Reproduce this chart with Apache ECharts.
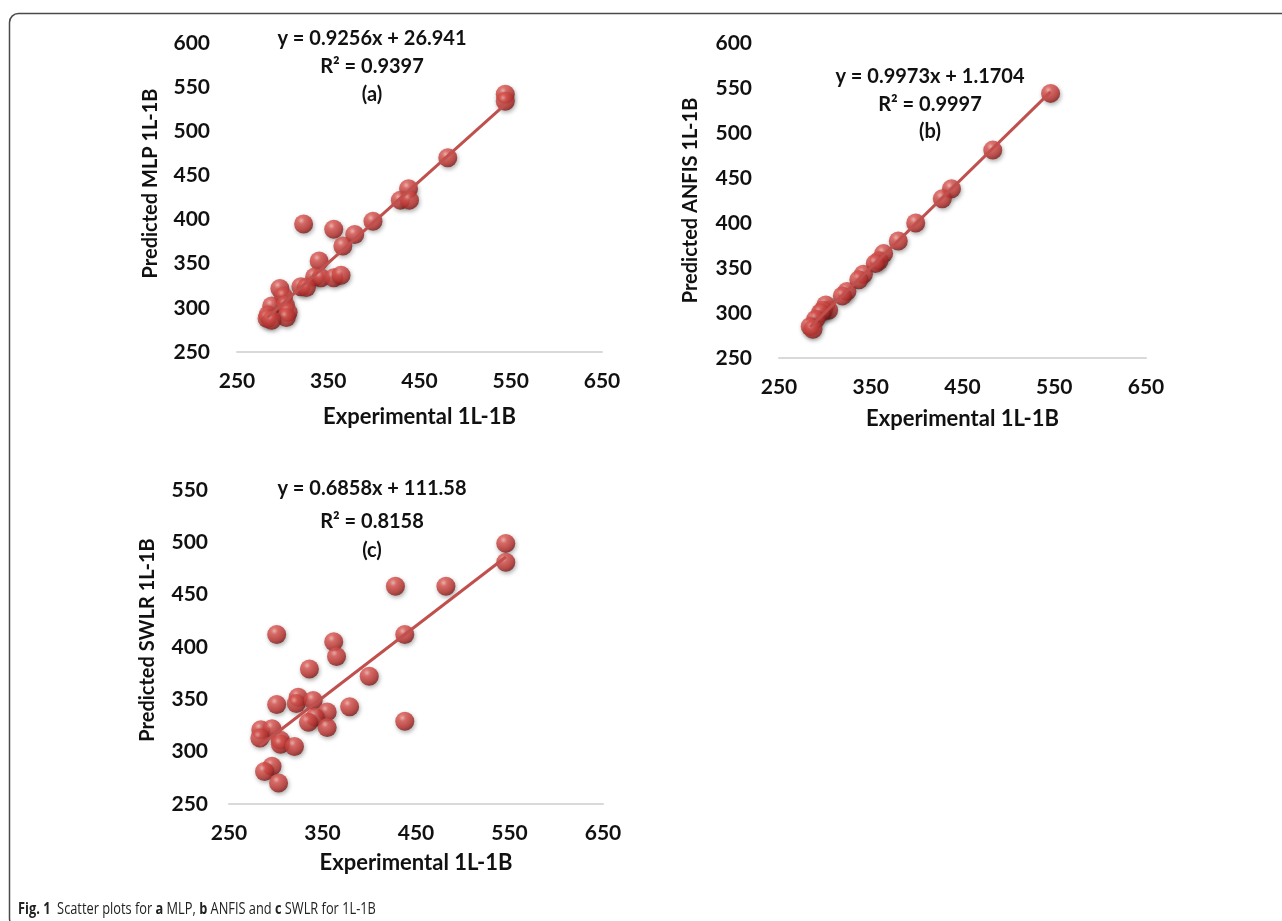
<!DOCTYPE html>
<html>
<head>
<meta charset="utf-8">
<script src="https://cdn.jsdelivr.net/npm/echarts@6/dist/echarts.min.js"></script>
<style>
html,body{margin:0;padding:0;background:#fff;}
#c{width:1282px;height:921px;}
</style>
</head>
<body>
<div id="c"></div>
<script>
// ---- Data ----
const expA  = [544,544,481,438,429,439,399,323,356,379,366,340,335,342,356,364,320,326,297,301,288,303,306,304,284,283,288];
const predA = [542,534,470,435,422,422,398,395,389,383,370,353,335,334,334,337,324,323,322,313,302,303,295,289,292,288,286];

const expB  = [546,483,438,428,399,380,364,359,355,342,337,324,319,301,304,298,295,290,284,287];
const predB = [544,481,438,427,400,380,366,358,355,343,337,324,319,309,303,303,300,293,285,282];

const expC  = [546,546,428,482,301,438,362,365,336,400,301,324,322,340,379,355,342,335,355,438,284,296,283,305,305,320,296,288,303];
const predC = [499,481,458,458,412,412,405,391,379,372,345,352,346,349,343,338,333,328,323,329,321,322,313,311,307,305,286,281,270];

const trendSlope     = [0.9256, 0.9973, 0.6858];
const trendIntercept = [26.941, 1.1704, 111.58];
const equationText   = ['y = 0.9256x + 26.941', 'y = 0.9973x + 1.1704', 'y = 0.6858x + 111.58'];
const r2Text         = ['R² = 0.9397', 'R² = 0.9997', 'R² = 0.8158'];
const panelTags      = ['(a)', '(b)', '(c)'];
const yTitles        = ['Predicted MLP 1L-1B', 'Predicted ANFIS 1L-1B', 'Predicted SWLR 1L-1B'];
const xTitle         = 'Experimental 1L-1B';
const xRange = [250, 650, 100];
const yRanges = [[250, 600, 50], [250, 600, 50], [250, 550, 50]];

// ---- Styles / layout ----
const FONT = 'Lato, "Open Sans", sans-serif';
const grids = [
  {left: 237, top: 43, width: 365, height: 309},
  {left: 779, top: 43, width: 367, height: 315},
  {left: 229, top: 490, width: 374, height: 314}
];
const yLabelMargin = [27, 27, 21];
const yNameGap = [76, 78, 71];
const yNameShift = [28, 0, 14];
const xNameGap = [54, 50, 48];

const ballColor = {
  type: 'radial', x: 0.38, y: 0.32, r: 0.72,
  colorStops: [
    {offset: 0, color: '#f6b0aa'},
    {offset: 0.25, color: '#df5853'},
    {offset: 0.7, color: '#bb3330'},
    {offset: 1, color: '#751816'}
  ]
};

function pairs(xs, ys){ return xs.map((x,i)=>[x, ys[i]]); }
function trend(i, xs){
  const lo = Math.min(...xs), hi = Math.max(...xs);
  return [[lo, trendSlope[i]*lo + trendIntercept[i]], [hi, trendSlope[i]*hi + trendIntercept[i]]];
}

const exps = [expA, expB, expC];
const preds = [predA, predB, predC];

const xAxes = [], yAxes = [], series = [];
for (let i = 0; i < 3; i++) {
  xAxes.push({
    gridIndex: i, type: 'value', min: xRange[0], max: xRange[1], interval: xRange[2],
    axisLine: {show: true, lineStyle: {color: '#d9d9d9', width: 2}},
    axisTick: {show: false}, splitLine: {show: false},
    axisLabel: {margin: 19, color: '#111', fontFamily: FONT, fontWeight: 'bold', fontSize: 21},
    name: xTitle, nameLocation: 'middle', nameGap: xNameGap[i],
    nameTextStyle: {color: '#111', fontFamily: FONT, fontWeight: 'bold', fontSize: 22}
  });
  yAxes.push({
    gridIndex: i, type: 'value', min: yRanges[i][0], max: yRanges[i][1], interval: yRanges[i][2],
    axisLine: {show: false}, axisTick: {show: false}, splitLine: {show: false},
    axisLabel: {margin: yLabelMargin[i], color: '#111', fontFamily: FONT, fontWeight: 'bold', fontSize: 21},
    name: yTitles[i], nameLocation: 'middle', nameGap: yNameGap[i],
    nameTextStyle: {color: '#111', fontFamily: FONT, fontWeight: 'bold', fontSize: 20,
                    padding: [0, 0, 0, yNameShift[i]]}
  });
  series.push({
    type: 'scatter', xAxisIndex: i, yAxisIndex: i, symbolSize: 19,
    data: pairs(exps[i], preds[i]),
    itemStyle: {color: ballColor, shadowBlur: 4, shadowColor: 'rgba(0,0,0,0.4)', shadowOffsetX: 1, shadowOffsetY: 2},
    z: 2
  });
  series.push({
    type: 'line', xAxisIndex: i, yAxisIndex: i, data: trend(i, exps[i]),
    showSymbol: false, symbol: 'none', lineStyle: {color: '#c0504d', width: 3}, z: 3, silent: true
  });
}

const annoPos = [
  {x: 372, ys: [39, 67, 95]},
  {x: 930, ys: [77, 105, 132]},
  {x: 372, ys: [489, 522, 551]}
];
const graphic = [];
graphic.push({
  type: 'rect', left: 7, top: 11, z: -1, silent: true,
  shape: {x: 0, y: 0, width: 1300, height: 914, r: 9},
  style: {fill: 'none', stroke: '#4a4a4a', lineWidth: 1.5}
});
for (let i = 0; i < 3; i++) {
  const lines = [equationText[i], r2Text[i], panelTags[i]];
  lines.forEach((t, k) => {
    graphic.push({
      type: 'text', x: annoPos[i].x, y: annoPos[i].ys[k], silent: true,
      style: {text: t, align: 'center', verticalAlign: 'middle', fill: '#111',
              font: 'bold 20px ' + FONT}
    });
  });
}
graphic.push({
  type: 'text', x: 18, y: 909, scaleX: 0.8, silent: true,
  style: {
    text: '{b|Fig. 1}  Scatter plots for {b|a} MLP, {b|b} ANFIS and {b|c} SWLR for 1L-1B',
    align: 'left', verticalAlign: 'middle', fill: '#222',
    font: '16px "Open Sans", sans-serif',
    rich: {b: {fontWeight: 'bold', fontFamily: '"Open Sans", sans-serif', fontSize: 16, fill: '#222'}}
  }
});

const chart = echarts.init(document.getElementById('c'), null, {renderer: 'canvas'});
chart.setOption({
  animation: false,
  backgroundColor: '#fff',
  grid: grids,
  xAxis: xAxes,
  yAxis: yAxes,
  series: series,
  graphic: graphic
});
</script>
</body>
</html>
